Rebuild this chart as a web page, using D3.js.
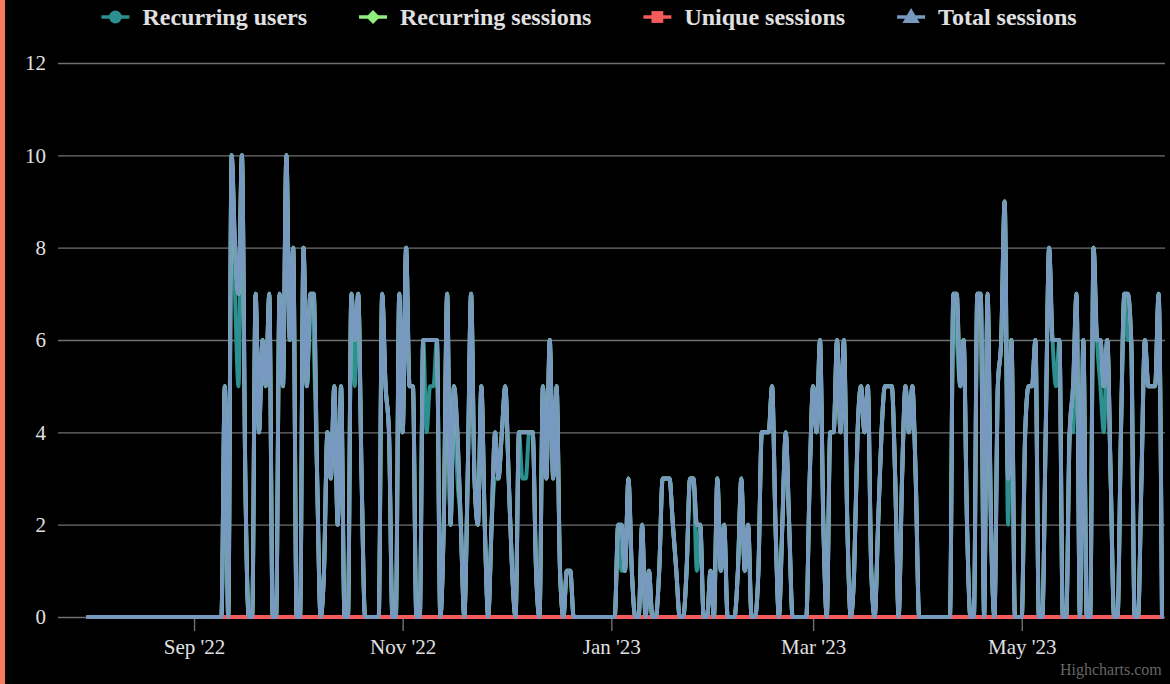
<!DOCTYPE html>
<html>
<head>
<meta charset="utf-8">
<script src="https://cdn.jsdelivr.net/npm/d3@7"></script>
<style>
  html, body { margin: 0; padding: 0; background: #000; }
  svg { display: block; font-family: "Liberation Serif", "Times New Roman", serif; }
</style>
</head>
<body>
<svg id="chart" width="1170" height="684"></svg>
<script>
// one value per day from 1 Aug 2022, one row per month
var totalSessions = [
  0,0,0,0,0,0,0,0,0,0,0,0,0,0,0,0,0,0,0,0,0,0,0,0,0,0,0,0,0,0,0,
  0,0,0,0,0,0,0,0,0,5,0,10,8,7,10,3,0,0,7,4,6,5,7,0,0,7,5,10,6,8,
  0,0,8,5,7,7,3,0,1,4,3,5,2,5,0,0,7,6,7,3,0,0,0,0,0,7,5,4,0,0,7,
  4,8,5,5,0,0,6,6,6,6,6,0,2,7,2,5,4,2,0,3,7,3,2,5,2,0,2,4,3,4,
  5,3,1,0,4,4,4,4,4,1,0,5,3,6,3,5,1,0,1,1,0,0,0,0,0,0,0,0,0,0,0,
  0,0,2,2,1,3,1,0,0,2,0,1,0,0,1,3,3,3,2,1,0,0,1,3,3,2,2,0,0,1,0,
  3,1,2,0,0,0,1,3,1,2,0,0,1,4,4,4,5,2,0,2,4,2,0,0,0,0,0,3,
  5,4,6,2,0,4,4,6,4,6,2,0,1,4,5,4,5,1,0,2,4,5,5,5,3,0,3,5,4,5,3,
  0,0,0,0,0,0,0,0,0,0,7,7,5,6,2,0,0,7,7,0,7,2,0,5,6,9,3,6,0,0,
  0,4,5,5,6,0,0,4,8,6,6,6,0,0,4,5,7,0,6,0,0,8,6,6,5,6,3,0,0,4,7,
  7,6,0,0,3,6,5,5,5,7,0
];
var recurringSessions = [
  0,0,0,0,0,0,0,0,0,0,0,0,0,0,0,0,0,0,0,0,0,0,0,0,0,0,0,0,0,0,0,
  0,0,0,0,0,0,0,0,0,5,0,10,8,7,10,3,0,0,7,4,6,5,7,0,0,7,5,10,6,8,
  0,0,8,5,7,7,3,0,1,4,3,5,2,5,0,0,7,6,7,3,0,0,0,0,0,7,5,4,0,0,7,
  4,8,5,5,0,0,6,6,6,6,6,0,2,7,2,5,4,2,0,3,7,3,2,5,2,0,2,4,3,4,
  5,3,1,0,4,4,4,4,4,1,0,5,3,6,3,5,1,0,1,1,0,0,0,0,0,0,0,0,0,0,0,
  0,0,2,2,1,3,1,0,0,2,0,1,0,0,1,3,3,3,2,1,0,0,1,3,3,2,2,0,0,1,0,
  3,1,2,0,0,0,1,3,1,2,0,0,1,4,4,4,5,2,0,2,4,2,0,0,0,0,0,3,
  5,4,6,2,0,4,4,6,4,6,2,0,1,4,5,4,5,1,0,2,4,5,5,5,3,0,3,5,4,5,3,
  0,0,0,0,0,0,0,0,0,0,7,7,5,6,2,0,0,7,7,0,7,2,0,5,6,9,3,6,0,0,
  0,4,5,5,6,0,0,4,8,6,6,6,0,0,4,5,7,0,6,0,0,8,6,6,5,6,3,0,0,4,7,
  7,6,0,0,3,6,5,5,5,7,0
];
var recurringUsers = [
  0,0,0,0,0,0,0,0,0,0,0,0,0,0,0,0,0,0,0,0,0,0,0,0,0,0,0,0,0,0,0,
  0,0,0,0,0,0,0,0,0,5,0,10,7,5,10,3,0,0,7,4,6,5,7,0,0,7,5,10,6,8,
  0,0,8,5,7,6,3,0,1,4,3,5,2,5,0,0,7,5,7,3,0,0,0,0,0,7,5,4,0,0,7,
  4,8,5,5,0,0,6,4,5,5,6,0,2,7,2,5,3,2,0,3,7,3,2,5,2,0,2,3,3,4,
  5,3,1,0,4,3,3,4,4,1,0,5,3,6,3,5,1,0,1,1,0,0,0,0,0,0,0,0,0,0,0,
  0,0,2,1,1,3,1,0,0,2,0,1,0,0,1,3,3,3,2,1,0,0,1,3,3,1,2,0,0,1,0,
  3,1,2,0,0,0,1,3,1,2,0,0,1,4,4,4,5,2,0,2,4,2,0,0,0,0,0,3,
  5,4,6,2,0,4,4,6,4,6,2,0,1,4,5,4,5,1,0,2,4,5,5,5,3,0,3,5,4,5,3,
  0,0,0,0,0,0,0,0,0,0,7,6,5,6,2,0,0,7,7,0,7,2,0,5,6,9,2,6,0,0,
  0,4,5,5,6,0,0,4,8,6,5,6,0,0,4,4,7,0,6,0,0,8,6,5,4,6,3,0,0,4,7,
  6,6,0,0,3,6,5,5,5,7,0
];
var uniqueSessions = [
  0,0,0,0,0,0,0,0,0,0,0,0,0,0,0,0,0,0,0,0,0,0,0,0,0,0,0,0,0,0,0,
  0,0,0,0,0,0,0,0,0,0,0,0,0,0,0,0,0,0,0,0,0,0,0,0,0,0,0,0,0,0,
  0,0,0,0,0,0,0,0,0,0,0,0,0,0,0,0,0,0,0,0,0,0,0,0,0,0,0,0,0,0,0,
  0,0,0,0,0,0,0,0,0,0,0,0,0,0,0,0,0,0,0,0,0,0,0,0,0,0,0,0,0,0,
  0,0,0,0,0,0,0,0,0,0,0,0,0,0,0,0,0,0,0,0,0,0,0,0,0,0,0,0,0,0,0,
  0,0,0,0,0,0,0,0,0,0,0,0,0,0,0,0,0,0,0,0,0,0,0,0,0,0,0,0,0,0,0,
  0,0,0,0,0,0,0,0,0,0,0,0,0,0,0,0,0,0,0,0,0,0,0,0,0,0,0,0,
  0,0,0,0,0,0,0,0,0,0,0,0,0,0,0,0,0,0,0,0,0,0,0,0,0,0,0,0,0,0,0,
  0,0,0,0,0,0,0,0,0,0,0,0,0,0,0,0,0,0,0,0,0,0,0,0,0,0,0,0,0,0,
  0,0,0,0,0,0,0,0,0,0,0,0,0,0,0,0,0,0,0,0,0,0,0,0,0,0,0,0,0,0,0,
  0,0,0,0,0,0,0,0,0,0,0
];

var seriesNames = ["Recurring users", "Recurring sessions", "Unique sessions", "Total sessions"];
var seriesColors = ["#2b908f", "#90ee7e", "#f45b5b", "#7798BF"];
var yTicks = [0, 2, 4, 6, 8, 10, 12];
var xTickDates = ["2022-09-01", "2022-11-01", "2023-01-01", "2023-03-01", "2023-05-01"];
var firstDay = "2022-08-01";

var W = 1170, H = 684,
    plotL = 58, plotR = 1165, plotT = 63, plotB = 617;

var svg = d3.select("#chart");
svg.append("rect").attr("width", W).attr("height", H).attr("fill", "#000");
svg.append("rect").attr("width", 5).attr("height", H).attr("fill", "#f77a5a");

var start = new Date(firstDay + "T00:00:00Z");
var days = totalSessions.map(function(v, i){ return d3.utcDay.offset(start, i); });

var x = d3.scaleUtc()
    .domain([days[0], days[days.length - 1]])
    .range([88, 1162]);
var y = d3.scaleLinear().domain([0, 12]).range([plotB, plotT]);

// y grid + labels
var yAxis = svg.append("g")
    .attr("transform", "translate(" + plotL + ",0)")
    .call(d3.axisLeft(y).tickValues(yTicks).tickSize(-(plotR - plotL)).tickPadding(12));
yAxis.select(".domain").remove();
yAxis.selectAll(".tick line").attr("stroke", "#707073").attr("stroke-width", 1.4);
yAxis.selectAll(".tick text")
    .attr("fill", "#E0E0E3").style("font-size", "21px")
    .style("font-family", "Liberation Serif, serif");

// x axis
var xAxis = svg.append("g")
    .attr("transform", "translate(0," + plotB + ")")
    .call(d3.axisBottom(x)
        .tickValues(xTickDates.map(function(s){ return new Date(s + "T00:00:00Z"); }))
        .tickFormat(d3.utcFormat("%b '%y"))
        .tickSize(14).tickPadding(8));
xAxis.select(".domain").remove();
xAxis.selectAll(".tick line").attr("stroke", "#707073").attr("stroke-width", 1.4);
xAxis.selectAll(".tick text")
    .attr("fill", "#E0E0E3").style("font-size", "21px")
    .style("font-family", "Liberation Serif, serif");

svg.append("clipPath").attr("id", "plotClip")
  .append("rect")
    .attr("x", plotL).attr("y", plotT - 20)
    .attr("width", plotR - plotL).attr("height", plotB - plotT + 22);

var line = d3.line()
    .x(function(d, i){ return x(days[i]); })
    .y(function(d){ return y(d); })
    .curve(d3.curveMonotoneX);

var allSeries = [recurringUsers, recurringSessions, uniqueSessions, totalSessions];

svg.append("g").attr("clip-path", "url(#plotClip)")
  .selectAll("path")
  .data(allSeries)
  .enter().append("path")
    .attr("d", line)
    .attr("fill", "none")
    .attr("stroke", function(d, i){ return seriesColors[i]; })
    .attr("stroke-width", 4)
    .attr("stroke-linejoin", "round")
    .attr("stroke-linecap", "round");

// legend
var symbols = [
  d3.symbol().type(d3.symbolCircle).size(130),
  d3.symbol().type(d3.symbolSquare).size(95),
  d3.symbol().type(d3.symbolSquare).size(140),
  d3.symbol().type(d3.symbolTriangle).size(130)
];
var legend = svg.append("g").attr("transform", "translate(0,17)");
var items = legend.selectAll("g.item")
    .data(seriesNames)
    .enter().append("g").attr("class", "item");
items.append("line")
    .attr("x1", 0).attr("x2", 28).attr("y1", 0).attr("y2", 0)
    .attr("stroke", function(d, i){ return seriesColors[i]; })
    .attr("stroke-width", 3.5);
items.append("path")
    .attr("d", function(d, i){ return symbols[i](); })
    .attr("transform", function(d, i){
        return "translate(14,0)" + (i === 1 ? " rotate(45)" : "") + (i === 3 ? " translate(0,1)" : "");
    })
    .attr("fill", function(d, i){ return seriesColors[i]; });
items.append("text")
    .attr("x", 41).attr("y", 8)
    .attr("fill", "#E0E0E3")
    .style("font-size", "24px").style("font-weight", "bold")
    .text(function(d){ return d; });

var widths = [];
items.each(function(){ widths.push(41 + d3.select(this).select("text").node().getComputedTextLength()); });
var gap = 52, totalW = d3.sum(widths) + gap * (widths.length - 1);
var cx = 589 - totalW / 2;
items.attr("transform", function(d, i){
    var off = cx + d3.sum(widths.slice(0, i)) + gap * i;
    return "translate(" + off + ",0)";
});

svg.append("text")
    .attr("x", 1060).attr("y", 675)
    .attr("fill", "#666")
    .style("font-size", "16px")
    .text("Highcharts.com");
</script>
</body>
</html>
